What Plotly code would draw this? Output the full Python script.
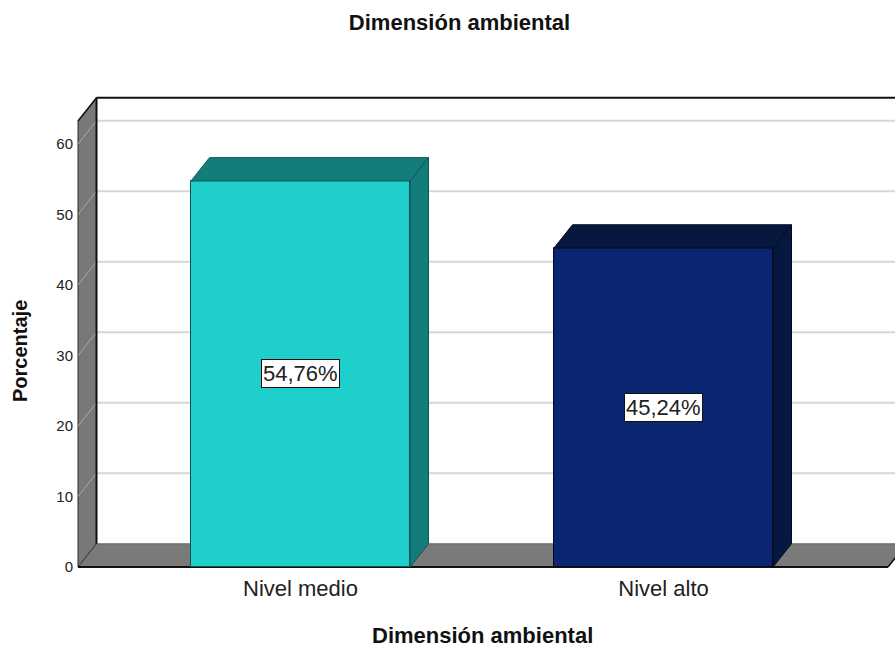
import plotly.graph_objects as go

# ---------------- data ----------------
categories = ["Nivel medio", "Nivel alto"]
percentages = [54.76, 45.24]
value_labels = ["54,76%", "45,24%"]
y_ticks = [0, 10, 20, 30, 40, 50, 60]

front_colors = ["#1ecfcc", "#0b2671"]
shade_colors = ["#137d7b", "#06183f"]
edge_colors = ["#0e5553", "#020a1e"]

# ---------------- geometry (pixel anchors -> axis units) ----------------
W, H = 895, 648
X0PX, XSCALE = 300.5, 363.0      # px of first category, px per category step
Y0PX, YSCALE = 567.0, 7.05       # px of value 0 (front plane), px per unit
PL, PR, PT, PB = 74, 895, 94, 573  # plot area in px

xr = [(PL - X0PX) / XSCALE, (PR - X0PX) / XSCALE]
yr = [(Y0PX - PB) / YSCALE, (Y0PX - PT) / YSCALE]

DX = 18.5 / XSCALE               # depth offset
DY = 23.3 / YSCALE
XL = (78 - X0PX) / XSCALE        # front-left of frame
XR = (888 - X0PX) / XSCALE       # front-right of floor
AMAX = (Y0PX - 121) / YSCALE     # axis top in front plane
BAR_HALF = 109.5 / XSCALE
FAR = xr[1] + 0.2

FONT = "Liberation Sans, Arial, Helvetica, sans-serif"

shapes = []
# back wall gridlines
for v in y_ticks[1:]:
    shapes.append(dict(type="line", layer="below", xref="x", yref="y",
                       x0=XL + DX, y0=v + DY, x1=FAR, y1=v + DY,
                       line=dict(color="#d6d6d6", width=2)))
# left wall
shapes.append(dict(type="path", layer="below", xref="x", yref="y",
                   path=f"M {XL},0 L {XL},{AMAX} L {XL+DX},{AMAX+DY} L {XL+DX},{DY} Z",
                   fillcolor="#787878", line=dict(color="#2a2a2a", width=1)))
# left wall gridlines (diagonal)
for v in y_ticks:
    shapes.append(dict(type="line", layer="below", xref="x", yref="y",
                       x0=XL, y0=v, x1=XL + DX, y1=v + DY,
                       line=dict(color="#a9a9a9", width=1)))
# floor
shapes.append(dict(type="path", layer="below", xref="x", yref="y",
                   path=f"M {XL},0 L {XR},0 L {XR+DX},{DY} L {XL+DX},{DY} Z",
                   fillcolor="#7a7a7a", line=dict(color="#2a2a2a", width=1)))
# floor back highlight
shapes.append(dict(type="line", layer="below", xref="x", yref="y",
                   x0=XL + DX, y0=DY, x1=FAR, y1=DY,
                   line=dict(color="#9a9a9a", width=1)))
# frame edges
shapes.append(dict(type="line", layer="below", xref="x", yref="y",
                   x0=XL + DX, y0=AMAX + DY, x1=FAR, y1=AMAX + DY,
                   line=dict(color="#111111", width=2)))
shapes.append(dict(type="line", layer="below", xref="x", yref="y",
                   x0=XL + DX, y0=DY, x1=XL + DX, y1=AMAX + DY,
                   line=dict(color="#111111", width=2)))
shapes.append(dict(type="line", layer="below", xref="x", yref="y",
                   x0=XL, y0=AMAX, x1=XL + DX, y1=AMAX + DY,
                   line=dict(color="#111111", width=1.5)))
shapes.append(dict(type="line", layer="below", xref="x", yref="y",
                   x0=XL, y0=0, x1=XR, y1=0,
                   line=dict(color="#111111", width=2)))
shapes.append(dict(type="line", layer="below", xref="x", yref="y",
                   x0=XR, y0=0, x1=XR + DX, y1=DY,
                   line=dict(color="#111111", width=1.5)))

fig = go.Figure()

# front faces
fig.add_trace(go.Bar(
    x=list(range(len(categories))), y=percentages, width=2 * BAR_HALF,
    marker=dict(color=front_colors, line=dict(color=edge_colors, width=1)),
    hoverinfo="skip", showlegend=False))

# top and side faces
for i, v in enumerate(percentages):
    x0, x1 = i - BAR_HALF, i + BAR_HALF
    fig.add_trace(go.Scatter(
        x=[x0, x1, x1 + DX, x0 + DX, x0], y=[v, v, v + DY, v + DY, v],
        mode="lines", fill="toself", fillcolor=shade_colors[i],
        line=dict(color=edge_colors[i], width=1), hoverinfo="skip", showlegend=False))
    fig.add_trace(go.Scatter(
        x=[x1, x1 + DX, x1 + DX, x1, x1], y=[0, DY, v + DY, v, 0],
        mode="lines", fill="toself", fillcolor=shade_colors[i],
        line=dict(color=edge_colors[i], width=1), hoverinfo="skip", showlegend=False))

annotations = []
for i, v in enumerate(percentages):
    annotations.append(dict(x=i, y=v / 2, xref="x", yref="y", text=value_labels[i],
                            showarrow=False, bgcolor="white", bordercolor="#111111",
                            borderwidth=1, borderpad=1,
                            font=dict(family=FONT, size=22, color="#222222")))

pw, ph = PR - PL, PB - PT
annotations.append(dict(x=(482 - PL) / pw, y=(PB - 635) / ph, xref="paper", yref="paper",
                        text="<b>Dimensión ambiental</b>", showarrow=False,
                        xanchor="center", yanchor="middle",
                        font=dict(family=FONT, size=22, color="#111111")))
annotations.append(dict(x=(20 - PL) / pw, y=(PB - 351) / ph, xref="paper", yref="paper",
                        text="<b>Porcentaje</b>", showarrow=False, textangle=-90,
                        xanchor="center", yanchor="middle",
                        font=dict(family=FONT, size=20, color="#111111")))

fig.update_layout(
    width=W, height=H, autosize=False,
    margin=dict(l=PL, r=W - PR, t=PT, b=H - PB, pad=0),
    paper_bgcolor="white", plot_bgcolor="white",
    title=dict(text="<b>Dimensión ambiental</b>", x=459.5 / W, xref="container",
               y=1 - 22 / H, yref="container", xanchor="center", yanchor="middle",
               font=dict(family=FONT, size=22, color="#111111")),
    xaxis=dict(range=xr, tickvals=list(range(len(categories))), ticktext=categories,
               showgrid=False, zeroline=False, showline=False, ticks="",
               tickfont=dict(family=FONT, size=22, color="#222222"), fixedrange=True),
    yaxis=dict(range=yr, tickvals=y_ticks, ticktext=[str(t) for t in y_ticks],
               showgrid=False, zeroline=False, showline=False, ticks="",
               tickfont=dict(family=FONT, size=15, color="#222222"), fixedrange=True),
    shapes=shapes, annotations=annotations, bargap=0,
)

fig.write_html("out.html")
